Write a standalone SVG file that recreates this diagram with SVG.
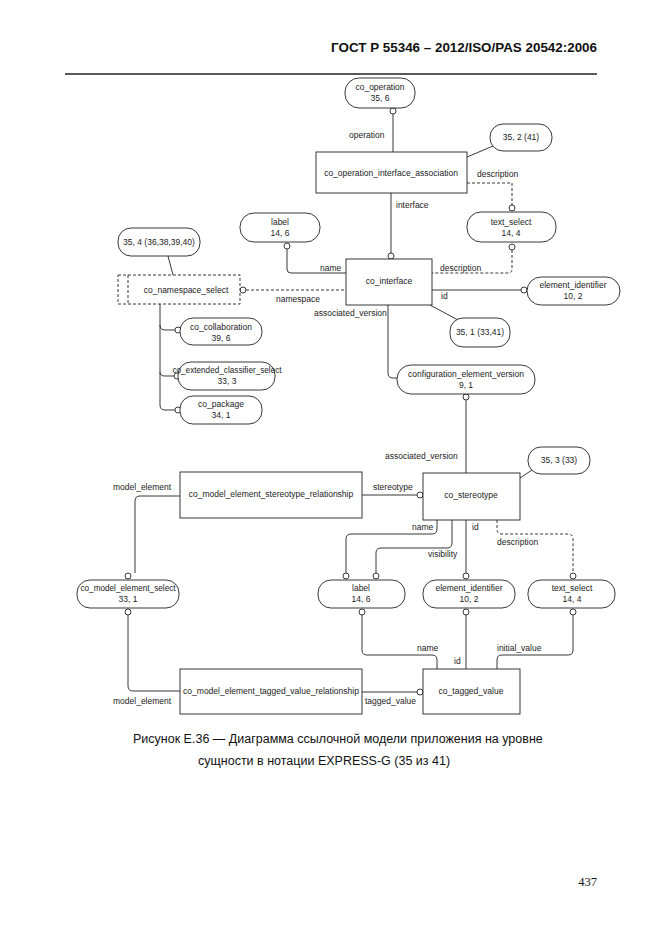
<svg xmlns="http://www.w3.org/2000/svg" width="662" height="935" viewBox="0 0 662 935">
<style>
.t{font-family:"Liberation Sans",Arial,sans-serif;font-size:8.5px;fill:#222}
.s{font-size:8.2px}
.c{text-anchor:middle}
.n{fill:#fff;stroke:#222;stroke-width:0.9}
.d{stroke-dasharray:3,2}
.l{fill:none;stroke:#222;stroke-width:0.9}
.o{fill:#fff;stroke:#222;stroke-width:0.9}
.h{font-family:"Liberation Sans",Arial,sans-serif;font-weight:bold;font-size:13.4px;fill:#111}
.cap{font-family:"Liberation Sans",Arial,sans-serif;font-size:12.5px;fill:#111}
</style>
<rect width="662" height="935" fill="#fff"/>
<text class="h" x="597" y="52" text-anchor="end">ГОСТ  Р 55346 – 2012/ISO/PAS 20542:2006</text>
<line x1="65" y1="74" x2="597" y2="74" stroke="#222" stroke-width="1.6"/>

<g id="connectors">
<line class="l" x1="393" y1="114" x2="393" y2="152"/>
<line class="l" x1="467" y1="157" x2="493" y2="146"/>
<path class="l d" d="M467 183 H512 V205"/>
<line class="l" x1="391" y1="193" x2="391" y2="256"/>
<path class="l d" d="M512 250 V269 Q512 273 508 273 H432"/>
<path class="l" d="M287 249 V269 Q287 273 291 273 H346"/>
<line class="l" x1="168" y1="256" x2="173" y2="275"/>
<line class="l d" x1="246" y1="290" x2="346" y2="290"/>
<line class="l" x1="432" y1="290" x2="521" y2="290"/>
<line class="l" x1="430" y1="305" x2="458" y2="320"/>
<path class="l" d="M388 305 V373 Q388 378 393 378 H398"/>
<path class="l" d="M160 304 V325 Q160 330 165 330 H175 M160 325 V372 Q160 376 165 376 H174 M160 372 V405 Q160 410 165 410 H175"/>
<line class="l" x1="466" y1="400" x2="466" y2="473"/>
<line class="l" x1="520" y1="478" x2="535" y2="468"/>
<line class="l" x1="362" y1="495" x2="417" y2="495"/>
<path class="l" d="M180 496 H140 Q135 496 135 501 V573"/>
<path class="l" d="M437 520 V529 Q437 534 432 534 H351 Q346 534 346 539 V573"/>
<path class="l" d="M452 520 V543 Q452 548 447 548 H381 Q376 548 376 553 V573"/>
<line class="l" x1="466" y1="520" x2="466" y2="573"/>
<path class="l d" d="M497 520 V529 Q497 534 502 534 H568 Q573 534 573 539 V573"/>
<path class="l" d="M128 615 V686 Q128 691 133 691 H180"/>
<line class="l" x1="362" y1="692" x2="417" y2="692"/>
<path class="l" d="M362 615 V650 Q362 655 367 655 H432 Q437 655 437 660 V669"/>
<line class="l" x1="466" y1="615" x2="466" y2="669"/>
<path class="l" d="M573 615 V650 Q573 655 568 655 H502 Q497 655 497 660 V669"/>
<circle class="o" cx="393" cy="111" r="3"/>
<circle class="o" cx="512" cy="208" r="3"/>
<circle class="o" cx="512" cy="247" r="3"/>
<circle class="o" cx="391" cy="256" r="3"/>
<circle class="o" cx="287" cy="246" r="3"/>
<circle class="o" cx="243" cy="290" r="3"/>
<circle class="o" cx="524" cy="290" r="3"/>
<circle class="o" cx="178" cy="330" r="3"/>
<circle class="o" cx="177" cy="376" r="3"/>
<circle class="o" cx="178" cy="410" r="3"/>
<circle class="o" cx="466" cy="397" r="3"/>
<circle class="o" cx="420" cy="495" r="3"/>
<circle class="o" cx="128" cy="576" r="3"/>
<circle class="o" cx="128" cy="612" r="3"/>
<circle class="o" cx="346" cy="576" r="3"/>
<circle class="o" cx="376" cy="576" r="3"/>
<circle class="o" cx="362" cy="612" r="3"/>
<circle class="o" cx="466" cy="576" r="3"/>
<circle class="o" cx="466" cy="612" r="3"/>
<circle class="o" cx="573" cy="576" r="3"/>
<circle class="o" cx="573" cy="612" r="3"/>
<circle class="o" cx="420" cy="692" r="3"/>
<text class="t" x="349" y="138">operation</text>
<text class="t" x="477" y="177">description</text>
<text class="t" x="396" y="208">interface</text>
<text class="t" x="320" y="271">name</text>
<text class="t" x="440" y="271">description</text>
<text class="t" x="276" y="302">namespace</text>
<text class="t" x="441" y="299">id</text>
<text class="t" x="314" y="316">associated_version</text>
<text class="t" x="385" y="459">associated_version</text>
<text class="t" x="113" y="490">model_element</text>
<text class="t" x="373" y="490">stereotype</text>
<text class="t" x="412" y="530">name</text>
<text class="t" x="472" y="530">id</text>
<text class="t" x="497" y="545">description</text>
<text class="t" x="428" y="557">visibility</text>
<text class="t" x="417" y="651">name</text>
<text class="t" x="497" y="651">initial_value</text>
<text class="t" x="454" y="664">id</text>
<text class="t" x="113" y="704">model_element</text>
<text class="t" x="365" y="704">tagged_value</text>
</g>

<g id="co_operation"><rect class="n" x="345" y="78" width="70" height="30" rx="14"/><text class="t c" x="380" y="90">co_operation</text><text class="t c" x="380" y="101">35, 6</text></g>
<g id="ref_35_2"><rect class="n" x="490" y="124" width="62" height="27" rx="13"/><text class="t c" x="521" y="140">35, 2 (41)</text></g>
<g id="co_operation_interface_association"><rect class="n" x="316" y="152" width="151" height="41"/><text class="t c" x="391" y="176">co_operation_interface_association</text></g>
<g id="text_select_1"><rect class="n" x="467" y="212" width="89" height="30" rx="14"/><text class="t c" x="511" y="225">text_select</text><text class="t c" x="511" y="236">14, 4</text></g>
<g id="label_1"><rect class="n" x="240" y="213" width="80" height="29" rx="14"/><text class="t c" x="280" y="225">label</text><text class="t c" x="280" y="236">14, 6</text></g>
<g id="ref_35_4"><rect class="n" x="118" y="228" width="82" height="28" rx="13"/><text class="t c" x="159" y="245">35, 4 (36,38,39,40)</text></g>
<g id="co_namespace_select"><rect class="n d" x="118" y="275" width="122" height="29"/><line class="l d" x1="128" y1="275" x2="128" y2="304"/><text class="t c" x="186" y="293">co_namespace_select</text></g>
<g id="co_interface"><rect class="n" x="346" y="259" width="86" height="46"/><text class="t c" x="389" y="284">co_interface</text></g>
<g id="element_identifier_1"><rect class="n" x="527" y="277" width="93" height="28" rx="14"/><text class="t c" x="573" y="288">element_identifier</text><text class="t c" x="573" y="299">10, 2</text></g>
<g id="ref_35_1"><rect class="n" x="450" y="318" width="60" height="29" rx="13"/><text class="t c" x="480" y="335">35, 1 (33,41)</text></g>
<g id="co_collaboration"><rect class="n" x="180" y="318" width="82" height="27" rx="13"/><text class="t c" x="221" y="330">co_collaboration</text><text class="t c" x="221" y="341">39, 6</text></g>
<g id="co_extended_classifier_select"><rect class="n" x="178" y="362" width="97" height="28" rx="13"/><text class="t c s" x="227" y="373">co_extended_classifier_select</text><text class="t c" x="227" y="384">33, 3</text></g>
<g id="co_package"><rect class="n" x="180" y="396" width="82" height="28" rx="13"/><text class="t c" x="221" y="407">co_package</text><text class="t c" x="221" y="418">34, 1</text></g>
<g id="configuration_element_version"><rect class="n" x="397" y="365" width="138" height="29" rx="14"/><text class="t c" x="466" y="377">configuration_element_version</text><text class="t c" x="466" y="388">9, 1</text></g>
<g id="ref_35_3"><rect class="n" x="528" y="447" width="62" height="27" rx="13"/><text class="t c" x="559" y="463">35, 3 (33)</text></g>
<g id="co_model_element_stereotype_relationship"><rect class="n" x="180" y="472" width="182" height="46"/><text class="t c" x="271" y="497">co_model_element_stereotype_relationship</text></g>
<g id="co_stereotype"><rect class="n" x="423" y="473" width="97" height="47"/><text class="t c" x="471" y="498">co_stereotype</text></g>
<g id="co_model_element_select"><rect class="n" x="77" y="580" width="102" height="28" rx="13"/><text class="t c s" x="128" y="591">co_model_element_select</text><text class="t c" x="128" y="602">33, 1</text></g>
<g id="label_2"><rect class="n" x="318" y="580" width="87" height="28" rx="13"/><text class="t c" x="361" y="591">label</text><text class="t c" x="361" y="602">14, 6</text></g>
<g id="element_identifier_2"><rect class="n" x="423" y="580" width="92" height="28" rx="13"/><text class="t c" x="469" y="591">element_identifier</text><text class="t c" x="469" y="602">10, 2</text></g>
<g id="text_select_2"><rect class="n" x="528" y="580" width="87" height="28" rx="13"/><text class="t c" x="572" y="591">text_select</text><text class="t c" x="572" y="602">14, 4</text></g>
<g id="co_model_element_tagged_value_relationship"><rect class="n" x="180" y="669" width="182" height="45"/><text class="t c" x="271" y="694">co_model_element_tagged_value_relationship</text></g>
<g id="co_tagged_value"><rect class="n" x="423" y="669" width="97" height="45"/><text class="t c" x="471" y="694">co_tagged_value</text></g>

<text class="cap" x="133" y="743">Рисунок Е.36 — Диаграмма ссылочной модели приложения на уровне</text>
<text class="cap" x="198" y="765">сущности в нотации EXPRESS-G (35 из 41)</text>
<text x="597" y="886" text-anchor="end" font-family="Liberation Serif,serif" font-size="12.5" fill="#111">437</text>
</svg>
